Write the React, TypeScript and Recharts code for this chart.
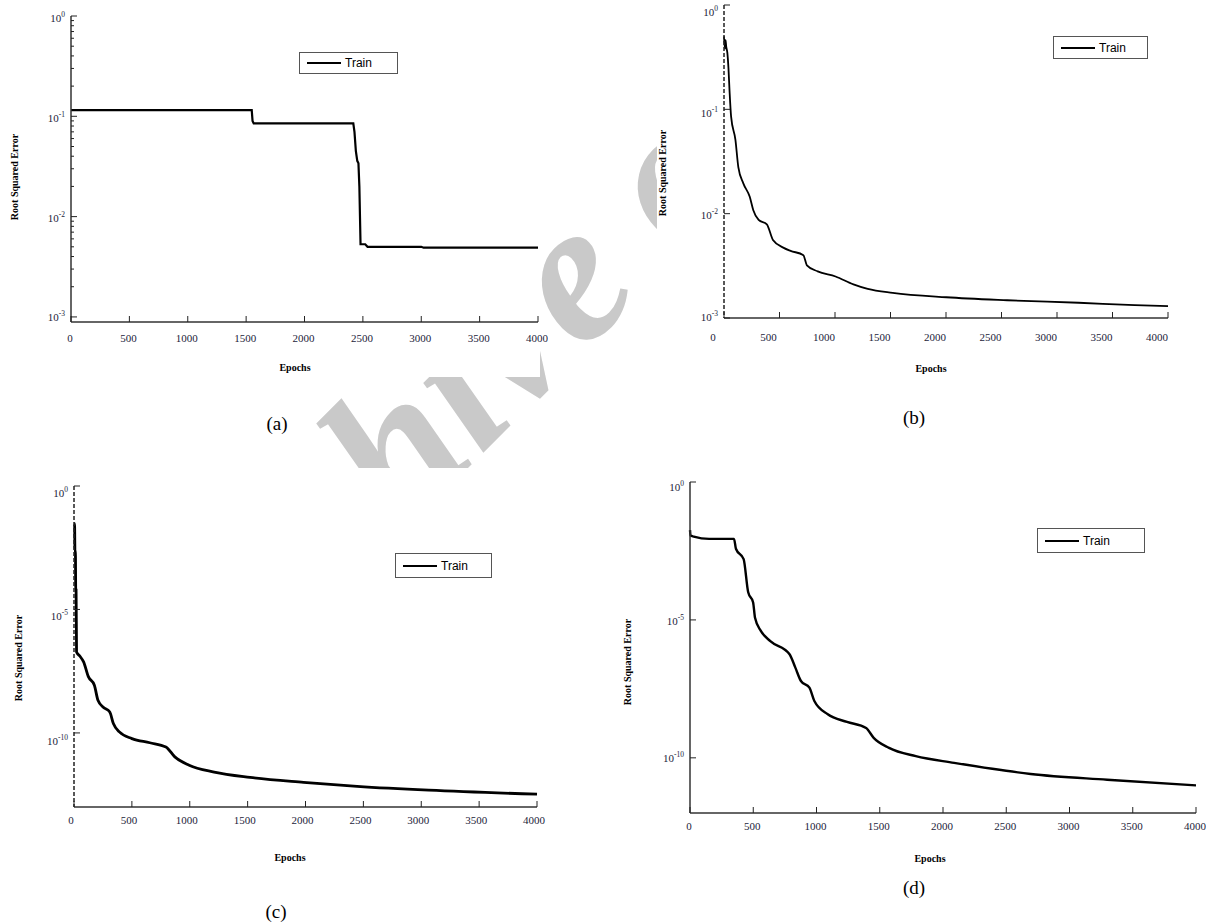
import React from "react";
import { LineChart, Line, XAxis, YAxis, Legend } from "recharts";

const EPOCH_TICKS = [0, 500, 1000, 1500, 2000, 2500, 3000, 3500, 4000];

// (a) step-like training curve
const A_EPOCHS = [0, 1548, 1555, 1565, 2418, 2428, 2440, 2452, 2462, 2470, 2480, 2520, 2540, 3000, 3020, 4000];
const A_ERROR = [0.115, 0.115, 0.09, 0.085, 0.085, 0.07, 0.045, 0.036, 0.034, 0.02, 0.0053, 0.0053, 0.005, 0.005, 0.0049, 0.0049];

// (b)
const B_EPOCHS = [0, 8, 14, 20, 30, 40, 50, 64, 103, 129, 174, 232, 264, 312, 386, 441, 538, 600, 715, 747, 844, 1005, 1166, 1295, 1520, 2003, 2551, 3195, 3700, 4000];
const B_ERROR = [0.5, 0.38, 0.46, 0.4, 0.35, 0.25, 0.15, 0.085, 0.051, 0.028, 0.0195, 0.0145, 0.0108, 0.0087, 0.0079, 0.0056, 0.0047, 0.0044, 0.004, 0.0032, 0.0028, 0.0025, 0.0021, 0.0019, 0.00174, 0.00158, 0.00148, 0.0014, 0.00133, 0.0013];

// (c)
const C_EPOCHS = [0, 5, 8, 12, 15, 18, 22, 50, 83, 124, 176, 207, 253, 309, 340, 392, 500, 655, 794, 871, 995, 1211, 1520, 1983, 2446, 3064, 4000];
const C_ERROR = [0.03, 0.03, 2.5e-3, 2.5e-3, 6e-5, 6e-5, 1.9e-7, 1.3e-7, 7.5e-8, 1.9e-8, 8.5e-9, 2.1e-9, 1.1e-9, 7e-10, 2.4e-10, 1.1e-10, 5.9e-11, 4e-11, 2.7e-11, 1.07e-11, 4.9e-12, 2.6e-12, 1.58e-12, 1e-12, 6.9e-13, 4.8e-13, 3.3e-13];

// (d)
const D_EPOCHS = [0, 4, 30, 151, 348, 363, 424, 460, 499, 514, 560, 635, 787, 832, 877, 944, 983, 1089, 1241, 1392, 1452, 1573, 1785, 2088, 2390, 2693, 3298, 4000];
const D_ERROR = [0.018, 0.0115, 0.0105, 8.7e-3, 8.7e-3, 3.8e-3, 1.6e-3, 1e-4, 4.3e-5, 1.2e-5, 4e-6, 1.7e-6, 5.7e-7, 1.9e-7, 6.1e-8, 3.5e-8, 1.15e-8, 3.8e-9, 2e-9, 1.2e-9, 5.3e-10, 2.3e-10, 1.15e-10, 6.6e-11, 4e-11, 2.6e-11, 1.6e-11, 1e-11];

const AB_DECADES = [1, 0.1, 0.01, 0.001];
const CD_DECADES = [1, 1e-5, 1e-10];
const A_MINOR = [0.1, 0.01, 0.001].flatMap((d) => [2, 3, 4, 5, 6, 7, 8, 9].map((m) => m * d));

const SERIF = '"Liberation Serif", "Times New Roman", serif';
const SANS = '"Liberation Sans", Arial, sans-serif';
const LABEL_COLOR = "#1c1c3a";

const rows = (epochs: number[], errs: number[]) => epochs.map((e, i) => ({ epoch: e, err: errs[i] }));

const isDecade = (v: number) => Math.abs(Math.log10(v) - Math.round(Math.log10(v))) < 1e-6;

const PANELS = [
  {
    id: "a",
    data: rows(A_EPOCHS, A_ERROR),
    curve: "linear",
    plot: { x: 71, y: 16, w: 467, h: 306 },
    domain: [0.00089, 1],
    yTicks: [...AB_DECADES, ...A_MINOR],
    yLabelDy: [2, 2, 1, 0],
    xLabelDy: 20,
    xLabelDx: -1,
    strokeWidth: 2.2,
    dashedLeft: false,
    legend: { x: 299, y: 52, w: 99, h: 22 },
    caption: { x: 277, y: 424 },
    xTitle: { x: 295, y: 367 },
    yTitle: { x: 14, y: 177 },
  },
  {
    id: "b",
    data: rows(B_EPOCHS, B_ERROR),
    curve: "monotone",
    plot: { x: 724, y: 5, w: 444, h: 313 },
    domain: [0.001, 1],
    yTicks: AB_DECADES,
    yLabelDy: [7, 4, 1, -1],
    xLabelDy: 23,
    xLabelDx: -11,
    strokeWidth: 1.8,
    dashedLeft: true,
    legend: { x: 1053, y: 36, w: 95, h: 23 },
    caption: { x: 914, y: 418 },
    xTitle: { x: 931, y: 368 },
    yTitle: { x: 662, y: 173 },
  },
  {
    id: "c",
    data: rows(C_EPOCHS, C_ERROR),
    curve: "monotone",
    plot: { x: 74, y: 486, w: 463, h: 321 },
    domain: [1e-13, 1],
    yTicks: CD_DECADES,
    yLabelDy: [7, 7, 8],
    xLabelDy: 17,
    xLabelDx: -3,
    strokeWidth: 2.8,
    dashedLeft: true,
    legend: { x: 395, y: 553, w: 97, h: 25 },
    caption: { x: 276, y: 912 },
    xTitle: { x: 290, y: 857 },
    yTitle: { x: 18, y: 658 },
  },
  {
    id: "d",
    data: rows(D_EPOCHS, D_ERROR),
    curve: "monotone",
    plot: { x: 690, y: 482, w: 506, h: 331 },
    domain: [1e-12, 1],
    yTicks: CD_DECADES,
    yLabelDy: [5, 1, 0],
    xLabelDy: 17,
    xLabelDx: -1,
    strokeWidth: 2.4,
    dashedLeft: false,
    legend: { x: 1037, y: 528, w: 108, h: 25 },
    caption: { x: 914, y: 888 },
    xTitle: { x: 930, y: 858 },
    yTitle: { x: 627, y: 662 },
  },
];

const PAD_L = 60;
const PAD_T = 10;
const PAD_R = 10;
const PAD_B = 30;

function LeftTick(props: any) {
  const { x, y, payload, nudges, majors } = props;
  const v = payload.value;
  const major = isDecade(v);
  const idx = majors.indexOf(v);
  const dy = idx >= 0 ? nudges[idx] : 0;
  return (
    <g>
      <line x1={x} y1={y} x2={x + (major ? 6 : 3)} y2={y} stroke="#222" strokeWidth={1} />
      {major && (
        <text x={x - 6} y={y + 4 + dy} textAnchor="end" fontSize={11} fontFamily={SERIF} fill={LABEL_COLOR}>
          <tspan>10</tspan>
          <tspan dy={-5} fontSize={7.5}>{Math.round(Math.log10(v))}</tspan>
        </text>
      )}
    </g>
  );
}

function RightTick(props: any) {
  const { x, y, payload } = props;
  const major = isDecade(payload.value);
  return <line x1={x} y1={y} x2={x - (major ? 6 : 3)} y2={y} stroke="#222" strokeWidth={1} />;
}

function BottomTick(props: any) {
  const { x, y, payload, dy, dx } = props;
  return (
    <g>
      <line x1={x} y1={y} x2={x} y2={y - 6} stroke="#222" strokeWidth={1} />
      <text x={x + dx} y={y + dy} textAnchor="middle" fontSize={11} fontFamily={SERIF} fill={LABEL_COLOR}>
        {payload.value}
      </text>
    </g>
  );
}

function TopTick(props: any) {
  const { x, y } = props;
  return <line x1={x} y1={y} x2={x} y2={y + 6} stroke="#222" strokeWidth={1} />;
}

function TrainKey({ w, h }: { w: number; h: number }) {
  return (
    <div
      style={{
        width: w,
        height: h,
        boxSizing: "border-box",
        border: "1px solid #555",
        background: "#fff",
        display: "flex",
        alignItems: "center",
        paddingLeft: 7,
      }}
    >
      <div style={{ width: 34, height: 2, background: "#000" }} />
      <span style={{ marginLeft: 4, fontFamily: SANS, fontSize: 12, color: "#000" }}>Train</span>
    </div>
  );
}

function Panel({ p }: { p: (typeof PANELS)[number] }) {
  const left = p.plot.x - PAD_L;
  const top = p.plot.y - PAD_T;
  const width = p.plot.w + PAD_L + PAD_R;
  const height = p.plot.h + PAD_T + PAD_B;
  const axisStroke = { stroke: "#333", strokeWidth: 1.5 };
  const majors = p.yTicks.filter(isDecade);
  return (
    <>
      <div style={{ position: "absolute", left, top }}>
        <LineChart width={width} height={height} data={p.data} margin={{ top: PAD_T, right: PAD_R, bottom: 0, left: 0 }}>
          <XAxis
            xAxisId="bottom"
            dataKey="epoch"
            type="number"
            domain={[0, 4000]}
            ticks={EPOCH_TICKS}
            interval={0}
            height={PAD_B}
            tickSize={0}
            tickMargin={0}
            tickLine={false}
            axisLine={axisStroke}
            tick={(tp: any) => <BottomTick {...tp} dy={p.xLabelDy} dx={p.xLabelDx} />}
          />
          <XAxis
            xAxisId="top"
            orientation="top"
            dataKey="epoch"
            type="number"
            domain={[0, 4000]}
            ticks={EPOCH_TICKS}
            interval={0}
            height={0}
            tickSize={0}
            tickMargin={0}
            tickLine={false}
            axisLine={axisStroke}
            tick={(tp: any) => <TopTick {...tp} />}
          />
          <YAxis
            yAxisId="left"
            type="number"
            scale="log"
            domain={p.domain}
            allowDataOverflow
            ticks={p.yTicks}
            interval={0}
            width={PAD_L}
            tickSize={0}
            tickMargin={0}
            tickLine={false}
            axisLine={p.dashedLeft ? { stroke: "#222", strokeWidth: 1.5, strokeDasharray: "4 2" } : axisStroke}
            tick={(tp: any) => <LeftTick {...tp} nudges={p.yLabelDy} majors={majors} />}
          />
          <YAxis
            yAxisId="right"
            orientation="right"
            type="number"
            scale="log"
            domain={p.domain}
            allowDataOverflow
            ticks={p.yTicks}
            interval={0}
            width={0}
            tickSize={0}
            tickMargin={0}
            tickLine={false}
            axisLine={axisStroke}
            tick={(tp: any) => <RightTick {...tp} />}
          />
          <Legend
            layout="horizontal"
            verticalAlign="middle"
            content={() => <TrainKey w={p.legend.w} h={p.legend.h} />}
            wrapperStyle={{ position: "absolute", left: p.legend.x - left, top: p.legend.y - top, width: p.legend.w, height: p.legend.h }}
          />
          <Line
            xAxisId="bottom"
            yAxisId="left"
            type={p.curve as any}
            dataKey="err"
            stroke="#000"
            strokeWidth={p.strokeWidth}
            dot={false}
            isAnimationActive={false}
          />
        </LineChart>
      </div>
      <div
        style={{
          position: "absolute",
          left: p.xTitle.x,
          top: p.xTitle.y,
          transform: "translate(-50%, -50%)",
          fontFamily: SERIF,
          fontWeight: "bold",
          fontSize: 10,
          whiteSpace: "nowrap",
        }}
      >
        Epochs
      </div>
      <div
        style={{
          position: "absolute",
          left: p.yTitle.x,
          top: p.yTitle.y,
          transform: "translate(-50%, -50%) rotate(-90deg)",
          fontFamily: SERIF,
          fontWeight: "bold",
          fontSize: 10,
          whiteSpace: "nowrap",
        }}
      >
        Root Squared Error
      </div>
      <div
        style={{
          position: "absolute",
          left: p.caption.x,
          top: p.caption.y,
          transform: "translate(-50%, -50%)",
          fontFamily: SERIF,
          fontSize: 19,
          whiteSpace: "nowrap",
        }}
      >
        ({p.id})
      </div>
    </>
  );
}

// grey watermark that sits behind the four figure images
function Watermark() {
  return (
    <>
      <svg width={1210} height={924} style={{ position: "absolute", left: 0, top: 0 }}>
        <text
          x={0}
          y={0}
          transform="translate(401 535) rotate(-45)"
          fontFamily={SERIF}
          fontStyle="italic"
          fontWeight="bold"
          fontSize={200}
          fill="#c9c9c9"
        >
          hive of
        </text>
      </svg>
      <div style={{ position: "absolute", left: 0, top: 0, width: 540, height: 377, background: "#fff" }} />
      <div style={{ position: "absolute", left: 657, top: 0, width: 553, height: 470, background: "#fff" }} />
      <div style={{ position: "absolute", left: 0, top: 468, width: 1210, height: 456, background: "#fff" }} />
    </>
  );
}

export default function App() {
  return (
    <div style={{ position: "absolute", left: 0, top: 0, width: 1210, height: 924, background: "#fff", overflow: "hidden" }}>
      <Watermark />
      {PANELS.map((p) => (
        <Panel key={p.id} p={p} />
      ))}
    </div>
  );
}
